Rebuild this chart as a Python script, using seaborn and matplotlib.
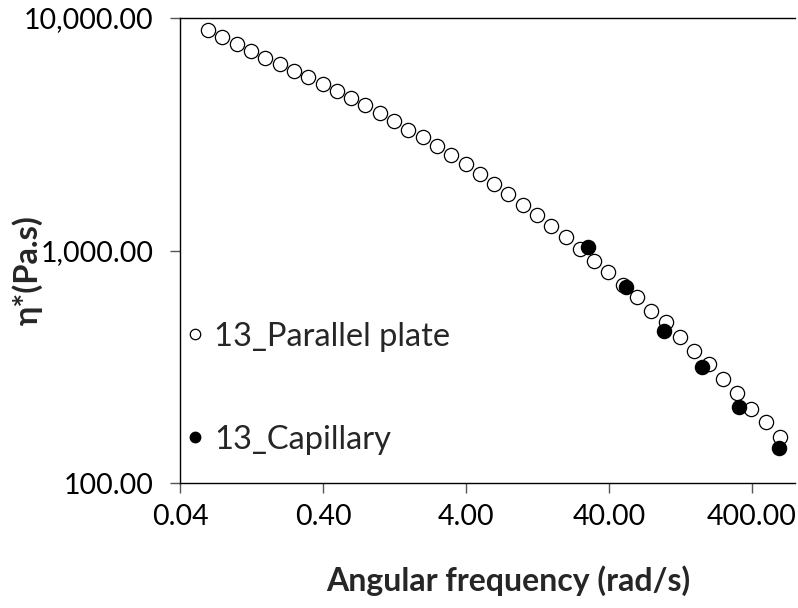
import matplotlib
matplotlib.use("Agg")
import matplotlib.pyplot as plt
from matplotlib.lines import Line2D
import seaborn as sns
import pandas as pd

# Parallel plate oscillatory sweep: angular frequency (rad/s) and complex viscosity (Pa.s)
plate_freq = [0.0628, 0.0791, 0.0996, 0.125, 0.158, 0.199, 0.250, 0.315, 0.397, 0.500,
              0.628, 0.791, 0.996, 1.25, 1.58, 1.99, 2.50, 3.15, 3.97, 5.00,
              6.28, 7.91, 9.96, 12.5, 15.8, 19.9, 25.0, 31.5, 39.7, 50.0,
              62.8, 79.1, 99.6, 125, 158, 199, 250, 315, 397, 500, 628]
plate_visc = [8877, 8307, 7702, 7208, 6744, 6316, 5927, 5551, 5194, 4860,
              4535, 4205, 3884, 3597, 3314, 3079, 2815, 2567, 2348, 2133,
              1939, 1744, 1574, 1416, 1273, 1141, 1020, 905, 806, 714,
              629, 551, 491, 426, 371, 325, 280, 244, 209, 183, 157]

# Capillary rheometer (Cox-Merz comparison)
cap_freq = [28.7, 52.6, 97.5, 180, 326, 618]
cap_visc = [1037, 695, 452, 316, 213, 142]

series_names = ["13_Parallel plate", "13_Capillary"]
x_ticks = [0.04, 0.4, 4, 40, 400]
x_tick_labels = ["0.04", "0.40", "4.00", "40.00", "400.00"]
y_ticks = [100, 1000, 10000]
y_tick_labels = ["100.00", "1,000.00", "10,000.00"]

sns.set_style("white")
plt.rcParams["font.family"] = ["Lato", "DejaVu Sans"]

fig = plt.figure(figsize=(7.98, 6.08), dpi=100)
ax = fig.add_axes([180 / 798, 1 - 483 / 608, 615 / 798, 465 / 608])

plate = pd.DataFrame({"freq": plate_freq, "visc": plate_visc})
cap = pd.DataFrame({"freq": cap_freq, "visc": cap_visc})

sns.scatterplot(data=plate, x="freq", y="visc", ax=ax, s=105, marker="o",
                facecolor="white", edgecolor="black", linewidth=0.9, zorder=3)
sns.scatterplot(data=cap, x="freq", y="visc", ax=ax, s=105, marker="o",
                color="black", edgecolor="black", linewidth=0.9, zorder=4)

ax.set_xscale("log")
ax.set_yscale("log")
ax.set_xlim(0.04, 800)
ax.set_ylim(100, 10000)
ax.set_xticks(x_ticks)
ax.set_xticklabels(x_tick_labels)
ax.set_yticks(y_ticks)
ax.set_yticklabels(y_tick_labels)
ax.minorticks_off()
ax.tick_params(axis="both", which="major", direction="out", length=7, width=1,
               color="#555555", labelsize=20.5, colors="black")
ax.tick_params(axis="x", pad=8)
ax.tick_params(axis="y", pad=12)
ax.xaxis.set_ticks_position("bottom")
ax.yaxis.set_ticks_position("left")

for side in ["left", "bottom", "top"]:
    ax.spines[side].set_visible(True)
    ax.spines[side].set_color("black")
    ax.spines[side].set_linewidth(1.0)
ax.spines["right"].set_visible(False)

ax.set_xlabel("Angular frequency (rad/s)", fontsize=23, fontweight="bold")
ax.xaxis.set_label_coords(0.533, -0.211)
ax.xaxis.label.set_va("center")
ax.set_ylabel("η*(Pa.s)", fontsize=23.5, fontweight="bold")
ax.yaxis.set_label_coords(-0.249, 0.458)
ax.yaxis.label.set_va("center")

handles = [
    Line2D([], [], linestyle="none", marker="o", markersize=7.5,
           markerfacecolor="white", markeredgecolor="black", markeredgewidth=0.9),
    Line2D([], [], linestyle="none", marker="o", markersize=7.5,
           markerfacecolor="black", markeredgecolor="black"),
]
ax.legend(handles, series_names, loc="upper left", bbox_to_anchor=(0.0, 0.361),
          frameon=False, fontsize=23.5, handlelength=0.5, handletextpad=0.35,
          labelspacing=2.24, borderaxespad=0.0, borderpad=0.2)

fig.savefig("out.png", dpi=100)
